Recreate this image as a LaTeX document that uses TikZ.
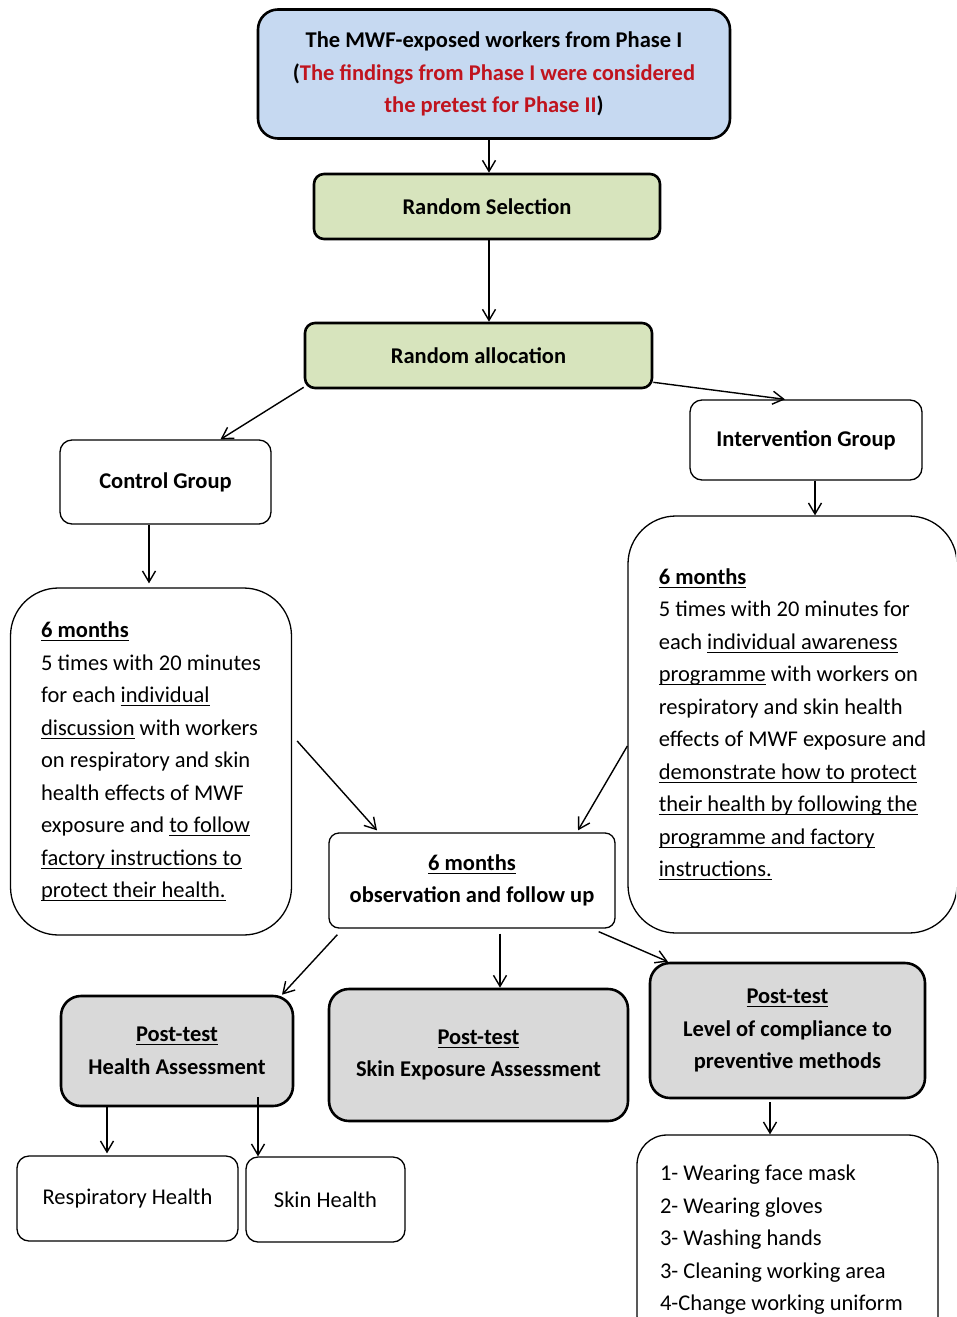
\documentclass[tikz,border=0pt]{standalone}
\usepackage{fontspec}
\setmainfont{Carlito}
\usetikzlibrary{arrows.meta}
\definecolor{topblue}{HTML}{C6D9F1}
\definecolor{selgreen}{HTML}{D7E4BD}
\definecolor{postgray}{HTML}{D9D9D9}
\definecolor{redtext}{HTML}{C0141E}
\newcommand\myul[1]{\leavevmode\setbox0\hbox{#1}\rlap{\rule[-3.5pt]{\wd0}{1pt}}\box0\relax}
\tikzset{
  basefont/.style={font=\fontsize{22.5}{32.5}\selectfont},
  thickbox/.style={draw, line width=2.6pt, rounded corners=12pt, basefont, align=center, inner sep=0pt},
  thinbox/.style={draw, line width=1.3pt, rounded corners=12pt, basefont, align=center, inner sep=0pt},
  bigbox/.style={draw, line width=1.3pt, rounded corners=48pt, basefont, align=left, inner sep=0pt},
  conn/.style={line width=1.4pt, -{Straight Barb[length=11pt,width=13pt,line width=1.4pt]}},
}
\begin{document}
\begin{tikzpicture}[x=1pt,y=-1pt]
\clip (0,0) rectangle (956,1317);
\fill[white] (0,0) rectangle (956,1317);

\node[thickbox, fill=topblue, rounded corners=20pt, minimum width=472pt, minimum height=129pt] (top) at (494,74)
  {\textbf{The MWF-exposed workers from Phase I}\\
   \textbf{(\textcolor{redtext}{The findings from Phase I were considered}}\\
   \textbf{\textcolor{redtext}{the pretest for Phase II})}};

\node[thickbox, fill=selgreen, rounded corners=10pt, minimum width=346pt, minimum height=65pt] (rs) at (487,206.5)
  {\textbf{Random Selection}};
\node[thickbox, fill=selgreen, rounded corners=10pt, minimum width=347pt, minimum height=65pt] (ra) at (478.5,355.5)
  {\textbf{Random allocation}};

\node[thinbox, minimum width=211pt, minimum height=84pt] (cg) at (165.5,482) {\textbf{Control Group}};
\node[thinbox, minimum width=232pt, minimum height=80pt] (ig) at (806,440) {\textbf{Intervention Group}};

\node[bigbox, minimum width=281pt, minimum height=347pt] (cbox) at (151,761.5)
  {\myul{\textbf{6 months}}\\
   5 times with 20 minutes\\
   for each \myul{individual}\\
   \myul{discussion} with workers\\
   on respiratory and skin\\
   health effects of MWF\\
   exposure and \myul{to follow}\\
   \myul{factory instructions to}\\
   \myul{protect their health.}};

\node[bigbox, minimum width=329pt, minimum height=417pt] (ibox) at (792.5,724.5)
  {\myul{\textbf{6 months}}\\
   5 times with 20 minutes for\\
   each \myul{individual awareness}\\
   \myul{programme} with workers on\\
   respiratory and skin health\\
   effects of MWF exposure and\\
   \myul{demonstrate how to protect}\\
   \myul{their health by following the}\\
   \myul{programme and factory}\\
   \myul{instructions.}};

\node[thinbox, rounded corners=10pt, minimum width=286pt, minimum height=95pt] (obs) at (472,880.5)
  {\textbf{\myul{6 months}}\\\textbf{observation and follow up}};

\node[thickbox, fill=postgray, rounded corners=20pt, minimum width=232pt, minimum height=110pt] (pth) at (177,1051)
  {\textbf{\myul{Post-test}}\\\textbf{Health Assessment}};
\node[thickbox, fill=postgray, rounded corners=20pt, minimum width=299pt, minimum height=132pt] (pts) at (478.5,1055)
  {\textbf{\myul{Post-test}}\\\textbf{Skin Exposure Assessment}};
\node[thickbox, fill=postgray, rounded corners=20pt, minimum width=275pt, minimum height=135pt] (ptc) at (787.5,1030.5)
  {\textbf{\myul{Post-test}}\\\textbf{Level of compliance to}\\\textbf{preventive methods}};

\node[thinbox, minimum width=221pt, minimum height=85pt] (rh) at (127.5,1198.5) {Respiratory Health};
\node[thinbox, minimum width=159pt, minimum height=85pt] (sh) at (325.5,1199.5) {Skin Health};

\node[thinbox, align=flush left, rounded corners=30pt, inner xsep=23pt, text width=255pt, minimum height=210pt] (list) at (787.5,1240)
  {1- Wearing face mask\\
   2- Wearing gloves\\
   3- Washing hands\\
   3- Cleaning working area\\
   4-Change working uniform};

% connectors
\draw[conn] ([xshift=2pt]rs.north |- top.south) -- ([xshift=2pt]rs.north);
\draw[conn] ([xshift=2pt]rs.south) -- ([xshift=2pt]rs.south |- ra.north);
\draw[conn] ([yshift=2pt]ra.south west) -- ([xshift=55pt]cg.north);
\draw[conn] ([yshift=7pt]ra.south east) -- ([xshift=-21pt]ig.north);
\draw[conn] ([xshift=-16.5pt]cg.south) -- ([xshift=-16.5pt,yshift=4pt]cg.south |- cbox.north);
\draw[conn] ([xshift=9pt]ig.south) -- ([xshift=9pt]ig.south |- ibox.north);
\draw[conn] ([shift={(5pt,20.5pt)}]cbox.east) -- ([xshift=-95pt,yshift=2pt]obs.north);
\draw[conn] ([yshift=-21.5pt]ibox.west) -- ([xshift=106pt,yshift=2pt]obs.north);
\draw[conn] ([shift={(9pt,-6pt)}]obs.south west) -- ([xshift=105pt]pth.north);
\draw[conn] ([shift={(28pt,-5pt)}]obs.south) -- ([xshift=28pt]obs.south |- pts.north);
\draw[conn] ([shift={(-17pt,-3pt)}]obs.south east) -- ([xshift=-119.5pt]ptc.north);
\draw[conn] ([xshift=-70pt]pth.south) -- ([xshift=-70pt,yshift=2pt]pth.south |- rh.north);
\draw[conn] ([shift={(81pt,10pt)}]pth.south) -- ([xshift=81pt]pth.south |- sh.north);
\draw[conn] ([shift={(-17.5pt,-3pt)}]ptc.south) -- ([xshift=-17.5pt]ptc.south |- list.north);
\end{tikzpicture}
\end{document}
